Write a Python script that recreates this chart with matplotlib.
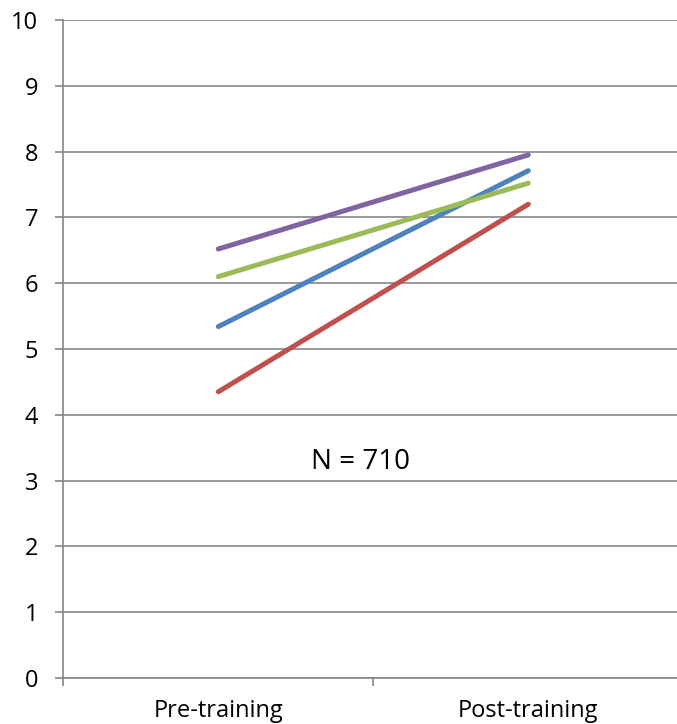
import matplotlib
matplotlib.use('Agg')
import matplotlib.pyplot as plt
from matplotlib.ticker import FixedLocator

# Data
categories = ['Pre-training', 'Post-training']
purple_vals = [6.52, 7.95]
green_vals = [6.10, 7.52]
blue_vals = [5.34, 7.71]
red_vals = [4.35, 7.20]
annotation = 'N = 710'

plt.rcParams['font.family'] = ['Open Sans', 'DejaVu Sans']

W, H = 677, 724
fig = plt.figure(figsize=(W / 100, H / 100), dpi=100)
ax = fig.add_axes([63.3 / W, (H - 678) / H, 620 / W, 658 / H])

grid_col = '#868686'
x = list(range(len(categories)))

# Series, drawn in Excel order so purple sits on top
for vals, col in [(blue_vals, '#4F81BD'), (red_vals, '#C0504D'),
                  (green_vals, '#9BBB59'), (purple_vals, '#8064A2')]:
    ax.plot(x, vals, color=col, linewidth=3.6, solid_capstyle='round', zorder=3)

ax.set_xlim(-0.5, 1.5)
ax.set_ylim(0, 10)
ax.set_yticks(range(0, 11))
ax.yaxis.grid(True, color=grid_col, linewidth=1.2)
ax.set_axisbelow(True)

ax.set_xticks(x)
ax.set_xticklabels(categories)
ax.xaxis.set_minor_locator(FixedLocator([-0.5, 0.5, 1.5]))
ax.tick_params(axis='x', which='major', length=0, pad=15, labelsize=17)
ax.tick_params(axis='x', which='minor', length=6, width=1.2, color=grid_col, direction='out')
ax.tick_params(axis='y', length=6, width=1.2, color=grid_col, pad=12, labelsize=17)

for side in ['top', 'right']:
    ax.spines[side].set_visible(False)
for side in ['left', 'bottom']:
    ax.spines[side].set_color(grid_col)
    ax.spines[side].set_linewidth(1.2)

ax.text(0.459, 3.17, annotation, ha='center', va='baseline', fontsize=20)

fig.savefig('out.png', dpi=100)
